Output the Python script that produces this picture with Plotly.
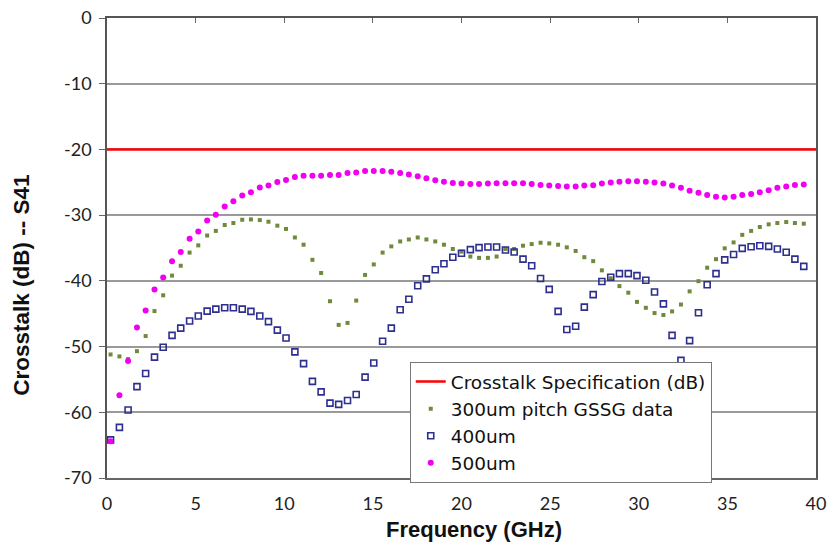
import plotly.graph_objects as go

FREQ_GHZ = [0.20, 0.70, 1.19, 1.69, 2.18, 2.68, 3.17, 3.67, 4.16, 4.66,
            5.15, 5.65, 6.14, 6.64, 7.13, 7.63, 8.12, 8.62, 9.11, 9.61,
            10.10, 10.60, 11.09, 11.59, 12.08, 12.58, 13.07, 13.57, 14.06, 14.56,
            15.05, 15.55, 16.04, 16.54, 17.03, 17.53, 18.02, 18.52, 19.01, 19.51,
            20.00, 20.50, 20.99, 21.49, 21.98, 22.48, 22.97, 23.47, 23.96, 24.46,
            24.95, 25.45, 25.94, 26.44, 26.93, 27.43, 27.92, 28.42, 28.91, 29.41,
            29.90, 30.40, 30.89, 31.39, 31.88, 32.38, 32.87, 33.37, 33.86, 34.36,
            34.85, 35.35, 35.84, 36.34, 36.83, 37.33, 37.82, 38.32, 38.81, 39.31]

PITCH_300UM = [-51.2, -51.5, -51.9, -50.7, -48.4, -44.6, -42.2, -39.2, -37.7, -35.7,
               -34.6, -33.1, -32.4, -31.5, -31.2, -30.7, -30.65, -30.75, -31.0, -31.6,
               -32.1, -33.4, -34.5, -36.8, -38.8, -43.1, -46.7, -46.4, -43.0, -39.1,
               -37.5, -35.7, -34.75, -34.0, -33.7, -33.4, -33.7, -34.0, -34.5, -35.15,
               -35.55, -36.3, -36.5, -36.5, -36.3, -35.15, -35.15, -34.65, -34.4, -34.2,
               -34.3, -34.5, -34.9, -35.45, -36.4, -37.0, -38.4, -39.6, -40.8, -41.8,
               -43.2, -44.1, -44.9, -45.2, -44.65, -43.6, -41.6, -40.05, -38.0, -36.7,
               -35.05, -34.15, -33.0, -32.4, -31.8, -31.4, -31.2, -31.05, -31.2, -31.3]

PITCH_400UM = [-64.2, -62.3, -59.65, -56.1, -54.1, -51.6, -50.1, -48.3, -47.2, -46.1,
               -45.35, -44.6, -44.3, -44.1, -44.1, -44.3, -44.65, -45.35, -46.2, -47.5,
               -48.7, -50.8, -52.6, -55.3, -56.9, -58.6, -58.8, -58.2, -57.3, -54.65,
               -52.5, -49.2, -47.2, -44.4, -42.8, -40.75, -39.7, -38.3, -37.4, -36.4,
               -35.8, -35.25, -34.95, -34.85, -34.85, -35.3, -35.6, -36.7, -37.7, -39.65,
               -41.3, -44.65, -47.4, -46.9, -44.0, -42.1, -40.1, -39.45, -38.9, -38.9,
               -39.2, -39.9, -41.7, -43.5, -48.3, -52.1, -49.1, -44.85, -40.6, -38.9,
               -36.8, -36.0, -35.05, -34.8, -34.65, -34.75, -35.15, -35.65, -36.7, -37.8]

PITCH_500UM = [-64.4, -57.4, -52.2, -47.1, -44.5, -41.3, -39.5, -37.0, -35.6, -33.6,
               -32.5, -30.8, -29.95, -28.7, -27.9, -27.0, -26.5, -25.8, -25.5, -24.95,
               -24.65, -24.2, -24.0, -24.0, -24.0, -23.9, -23.9, -23.6, -23.5, -23.3,
               -23.3, -23.3, -23.4, -23.6, -23.8, -24.1, -24.4, -24.7, -24.9, -25.1,
               -25.2, -25.25, -25.25, -25.2, -25.15, -25.15, -25.15, -25.15, -25.25, -25.4,
               -25.5, -25.55, -25.65, -25.65, -25.5, -25.45, -25.2, -25.05, -24.9, -24.85,
               -24.85, -24.9, -25.05, -25.2, -25.5, -25.85, -26.3, -26.6, -26.95, -27.2,
               -27.3, -27.2, -26.95, -26.8, -26.5, -26.2, -25.85, -25.65, -25.4, -25.35]

SPEC_X = [0, 40]
SPEC_Y = [-20, -20]

X_TICKS = [0, 5, 10, 15, 20, 25, 30, 35, 40]
Y_TICKS = [0, -10, -20, -30, -40, -50, -60, -70]
Y_TICK_TEXT = ["0", "-10", "-20", "-30", "-40", "-50", "-60", "-70"]

NAMES = ["Crosstalk Specification (dB)", "300um pitch GSSG data", "400um", "500um"]
X_TITLE = "Frequency (GHz)"
Y_TITLE = "Crosstalk (dB) -- S41"

fig = go.Figure()
fig.add_trace(go.Scatter(x=SPEC_X, y=SPEC_Y, mode="lines", name=NAMES[0],
                         line=dict(color="#FF0000", width=2.5)))
fig.add_trace(go.Scatter(x=FREQ_GHZ, y=PITCH_300UM, mode="markers", name=NAMES[1],
                         marker=dict(symbol="square", size=4, color="#6F8A3A")))
fig.add_trace(go.Scatter(x=FREQ_GHZ, y=PITCH_400UM, mode="markers", name=NAMES[2],
                         marker=dict(symbol="square-open", size=6, color="#2E2E8F",
                                     line=dict(width=1.6, color="#2E2E8F"))))
fig.add_trace(go.Scatter(x=FREQ_GHZ, y=PITCH_500UM, mode="markers", name=NAMES[3],
                         marker=dict(symbol="circle", size=6, color="#F000F0")))
# invisible trace so the top (crossing) axis is drawn
fig.add_trace(go.Scatter(x=[SPEC_X[0]], y=[None], xaxis="x2", mode="markers",
                         showlegend=False, hoverinfo="skip"))

tick_font = dict(family="Lato, Open Sans, sans-serif", size=18, color="#222222")
title_font = dict(family="Liberation Sans, Arial, sans-serif", size=22, color="#111111")

fig.update_layout(
    width=828, height=552,
    margin=dict(l=107, r=12, t=18, b=74, autoexpand=False),
    paper_bgcolor="white", plot_bgcolor="white",
    showlegend=True,
    legend=dict(x=0.427, y=0.252, xanchor="left", yanchor="top",
                bgcolor="white", bordercolor="#777777", borderwidth=1,
                font=dict(family="DejaVu Sans, Lato, sans-serif", size=18.5, color="#111111"),
                tracegroupgap=0, itemwidth=30),
    xaxis=dict(range=[0, 40], tickvals=X_TICKS, ticks="", showgrid=False,
               showline=True, linecolor="#666666", linewidth=1.5, zeroline=False,
               tickfont=tick_font, ticklabelstandoff=9, automargin=False,
               ticklabeloverflow="allow"),
    xaxis2=dict(range=[0, 40], overlaying="x", side="top", tickvals=X_TICKS,
                ticks="inside", ticklen=5, tickcolor="#666666", showticklabels=False,
                showgrid=False, showline=True, linecolor="#555555", linewidth=1.5,
                zeroline=False, automargin=False),
    yaxis=dict(range=[-70, 0], tickvals=Y_TICKS, ticktext=Y_TICK_TEXT,
               ticks="outside", ticklen=6, automargin=False, ticklabeloverflow="allow",
               tickcolor="#666666", showgrid=True, gridcolor="#9A9A9A", gridwidth=1.5,
               showline=True, linecolor="#555555", linewidth=1.5, mirror=True,
               zeroline=False, tickfont=tick_font, ticklabelstandoff=4),
    annotations=[
        dict(text="<b>" + X_TITLE + "</b>", xref="paper", yref="paper",
             x=0.517, y=-0.113, xanchor="center", yanchor="middle",
             showarrow=False, font=title_font),
        dict(text="<b>" + Y_TITLE + "</b>", xref="paper", yref="paper",
             x=-0.12, y=0.42, xanchor="center", yanchor="middle", textangle=-90,
             showarrow=False, font=dict(title_font, size=22.5)),
    ],
)

fig.write_html("out.html", config={"displayModeBar": False},
               post_script="document.body.style.margin='0px';")
